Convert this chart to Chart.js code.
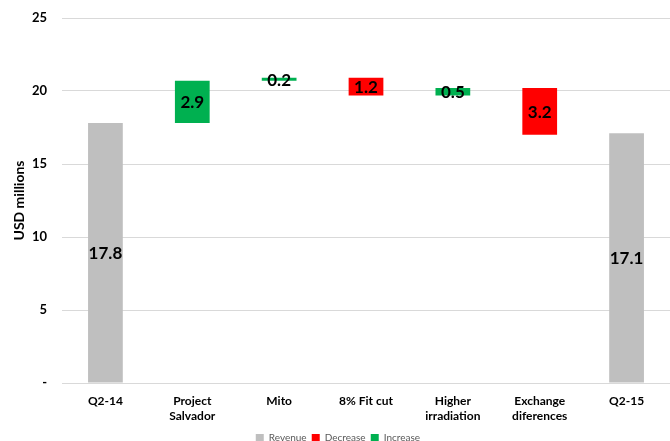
<!DOCTYPE html>
<html>
<head>
<meta charset="utf-8">
<script src="https://cdn.jsdelivr.net/npm/chart.js@4/dist/chart.umd.min.js"></script>
<style>
  body { margin: 0; background: #fff; }
  #wrap { width: 670px; height: 441px; position: relative; }
</style>
</head>
<body>
<div id="wrap"><canvas id="myChart"></canvas></div>
<script>
// waterfall: revenue Q2-14 -> Q2-15 (USD millions)
var categories = ['Q2-14', ['Project', 'Salvador'], 'Mito', '8% Fit cut', ['Higher', 'irradiation'], ['Exchange', 'diferences'], 'Q2-15'];
var steps = [17.8, 2.9, 0.2, -1.2, 0.5, -3.2, 17.1];
var isTotal = [true, false, false, false, false, false, true];
var yTicks = [0, 5, 10, 15, 20, 25];

var revenue = [], decrease = [], increase = [];
var running = 0;
for (var i = 0; i < steps.length; i++) {
  var r = null, d = null, u = null;
  if (isTotal[i]) {
    running = steps[i];
    r = [0, steps[i]];
  } else if (steps[i] < 0) {
    d = [running + steps[i], running];
    running += steps[i];
  } else {
    u = [running, running + steps[i]];
    running += steps[i];
  }
  revenue.push(r); decrease.push(d); increase.push(u);
}

var FONT = 'Lato, "Liberation Sans", sans-serif';

// value label in the middle of each bar
var barLabels = {
  id: 'barLabels',
  afterDatasetsDraw: function(chart) {
    var ctx = chart.ctx;
    ctx.save();
    ctx.font = 'bold 17px ' + FONT;
    ctx.fillStyle = '#000';
    ctx.textAlign = 'center';
    ctx.textBaseline = 'middle';
    chart.data.datasets.forEach(function(ds, di) {
      var meta = chart.getDatasetMeta(di);
      meta.data.forEach(function(bar, idx) {
        if (!ds.data[idx]) return;
        var mid = (bar.y + bar.base) / 2;
        ctx.fillText(Math.abs(steps[idx]).toFixed(1), bar.x, mid + 1);
      });
    });
    ctx.restore();
  }
};

// make the legend box shorter so it sits closer to the bottom edge
var tightLegend = {
  id: 'tightLegend',
  afterInit: function(chart) {
    var legend = chart.legend;
    var fit = legend.fit;
    legend.fit = function() {
      fit.call(legend);
      legend.height -= 12;
    };
  }
};

new Chart('myChart', {
  type: 'bar',
  data: {
    labels: categories,
    datasets: [
      { label: 'Revenue', data: revenue, backgroundColor: '#BFBFBF', grouped: false },
      { label: 'Decrease', data: decrease, backgroundColor: '#FF0000', grouped: false },
      { label: 'Increase', data: increase, backgroundColor: '#00B050', grouped: false }
    ]
  },
  options: {
    responsive: true,
    maintainAspectRatio: false,
    animation: false,
    layout: { padding: { top: 18, right: 0, left: 11, bottom: 0 } },
    datasets: { bar: { categoryPercentage: 1, barPercentage: 0.4 } },
    plugins: {
      legend: {
        position: 'bottom',
        labels: {
          boxWidth: 8, boxHeight: 8, padding: 0,
          color: '#595959',
          font: { family: FONT, size: 10 },
          generateLabels: function(chart) {
            var items = Chart.defaults.plugins.legend.labels.generateLabels(chart);
            items.forEach(function(it) { it.text = it.text + '  '; });
            return items;
          }
        }
      },
      tooltip: { enabled: false }
    },
    scales: {
      x: {
        grid: { display: false, drawTicks: false },
        border: { color: '#D9D9D9' },
        ticks: {
          color: '#000', padding: 11, maxRotation: 0, autoSkip: false,
          font: { family: FONT, size: 12, weight: 'bold', lineHeight: 1.25 }
        },
        afterFit: function(scale) { scale.height = 50; }
      },
      y: {
        min: 0, max: 25,
        afterBuildTicks: function(scale) {
          scale.ticks = yTicks.map(function(v) { return { value: v }; });
        },
        grid: { color: '#D9D9D9', drawTicks: false },
        border: { display: false },
        ticks: {
          color: '#000', padding: 15,
          font: { family: FONT, size: 13, weight: 'bold' },
          callback: function(v) { return v === 0 ? '-' : v; }
        },
        title: {
          display: true, text: 'USD millions', color: '#000',
          font: { family: FONT, size: 14, weight: 'bold' },
          padding: { top: 0, bottom: 0 }
        },
        afterFit: function(scale) {
          scale.width = 51;
          scale.paddingTop = 0;
          scale.paddingBottom = 0;
        }
      }
    }
  },
  plugins: [barLabels, tightLegend]
});
</script>
</body>
</html>
